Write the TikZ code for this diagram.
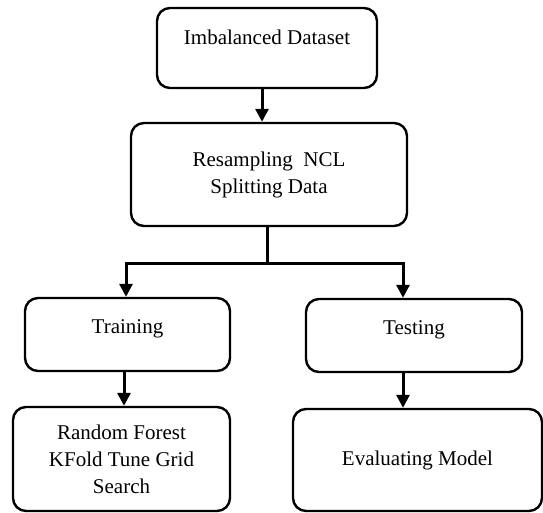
\documentclass[tikz,border=0pt]{standalone}
\usepackage{fontspec}
\setmainfont{Liberation Serif}
\usetikzlibrary{arrows.meta}
\begin{document}
\begin{tikzpicture}[x=1pt,y=-1pt,
  box/.style={draw=black, line width=2.4pt, rounded corners=13pt, align=center,
    font=\fontsize{21}{27}\selectfont, inner sep=0pt},
  raised/.style={text height=15pt, text depth=#1},
  arr/.style={line width=3pt, -{Triangle[length=13pt,width=13pt]}},
  ln/.style={line width=3pt}]
\useasboundingbox (0,0) rectangle (543,513);
\node[box, minimum width=220pt, minimum height=80pt, raised=21pt] (imb) at (267,48) {Imbalanced Dataset};
\node[box, minimum width=276pt, minimum height=103pt] (res) at (269,174.5) {Resampling\ \ NCL\\Splitting Data};
\node[box, minimum width=205pt, minimum height=73pt, raised=18pt] (train) at (127.5,334.5) {Training};
\node[box, minimum width=216pt, minimum height=73pt, raised=18pt] (test) at (414,335.5) {Testing};
\node[box, minimum width=217pt, minimum height=104pt] (rf) at (121.5,459) {Random Forest\\KFold Tune Grid\\Search};
\node[box, minimum width=249pt, minimum height=102pt] (eval) at (417.5,460) {Evaluating Model};
\coordinate (split) at (267,263);
\coordinate (sl) at (126,263);
\coordinate (sr) at (403,263);
\draw[arr] ([xshift=-5pt]imb.south) -- ([xshift=-5pt]imb.south |- res.north);
\draw[ln] (res.south -| split) -- (split);
\draw[arr] (split) -- (sl) -- (sl |- train.north);
\draw[arr] (split) -- (sr) -- (sr |- test.north);
\draw[arr] ([xshift=-2pt]sl |- train.south) -- ([xshift=-2pt]sl |- rf.north);
\draw[arr] (sr |- test.south) -- (sr |- eval.north);
\end{tikzpicture}
\end{document}
